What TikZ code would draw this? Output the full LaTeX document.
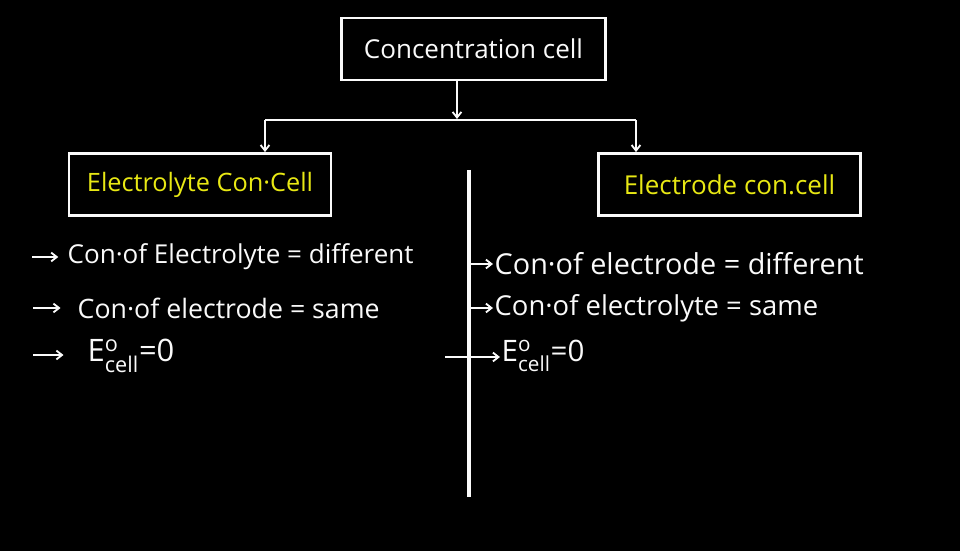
\documentclass[tikz,border=0pt]{standalone}
\usepackage{amsmath}
\usepackage{fontspec}
\setmainfont{Open Sans}
\usepackage{xcolor}
\usetikzlibrary{arrows.meta,positioning}

\definecolor{chalk}{RGB}{250,250,250}
\definecolor{marker}{RGB}{232,232,20}

\begin{document}
\begin{tikzpicture}[x=0.025cm,y=-0.025cm,
box/.style={draw=chalk,line width=2pt,minimum height=1.55cm,align=center},
arrow/.style={-{Straight Barb[length=1.4mm,width=2.2mm]},draw=chalk,line width=1.3pt},
item/.style={anchor=west,text=chalk,inner sep=1pt}
]
\fill[black] (0,0) rectangle (960,551);
\useasboundingbox (0,0) rectangle (960,551);

\node[box,minimum width=6.6cm,text=chalk,font=\fontsize{18.5}{22}\selectfont] (top) at (473.5,49) {Concentration cell};
\node[box,minimum width=6.55cm,text=marker,font=\fontsize{18}{21}\selectfont] (lcell) at (200,184.5) {Electrolyte Con·Cell};
\node[box,minimum width=6.55cm,text=marker,font=\fontsize{18.5}{21}\selectfont] (rcell) at (729.5,184.5) {Electrode con.cell};

\coordinate (split) at (457,119);
\coordinate (lbranch) at (265,120);
\coordinate (rbranch) at (636,120);
\coordinate (divtop) at (469,170);
\coordinate (divbot) at (469,497);

\draw[arrow] (top.south -| split) -- (split);
\draw[draw=chalk,line width=1.3pt] (lbranch) -- (rbranch);
\draw[arrow] (lbranch) -- (lbranch |- lcell.north);
\draw[arrow] (rbranch) -- (rbranch |- rcell.north);
\draw[draw=chalk,line width=2.4pt] (divtop) -- (divbot);

% electrolyte concentration cell
\node[item,font=\fontsize{18.5}{22}\selectfont] (l1) at (66,257) {Con·of Electrolyte = different};
\node[item,font=\fontsize{19}{22}\selectfont] (l2) at (76,308) {Con·of electrode = same};
\node[item,font=\fontsize{22}{26}\selectfont] (l3) at (86,356) {E$^{\text{o}}_{\text{cell}}$=0};
\coordinate (la1) at (32,257);
\coordinate (la2) at (33,308);
\coordinate (la3) at (33,355);
\draw[arrow,shorten >=5.5] (la1) -- (la1 -| l1.west);
\draw[arrow,shorten >=11] (la2) -- (la2 -| l2.west);
\draw[arrow,shorten >=16] (la3) -- (la3 -| l3.west);

% electrode concentration cell
\node[item,font=\fontsize{20.5}{24}\selectfont] (r1) at (493,264) {Con·of electrode = different};
\node[item,font=\fontsize{19.5}{23}\selectfont] (r2) at (493,308) {Con·of electrolyte = same};
\node[item,font=\fontsize{21}{25}\selectfont] (r3) at (500,356) {E$^{\text{o}}_{\text{cell}}$=0};
\coordinate (ra3) at (445,357);
\draw[arrow] (divtop |- r1.west) -- (r1.west);
\draw[arrow] (divtop |- r2.west) -- (r2.west);
\draw[arrow] (ra3) -- (ra3 -| r3.west);
\end{tikzpicture}
\end{document}
